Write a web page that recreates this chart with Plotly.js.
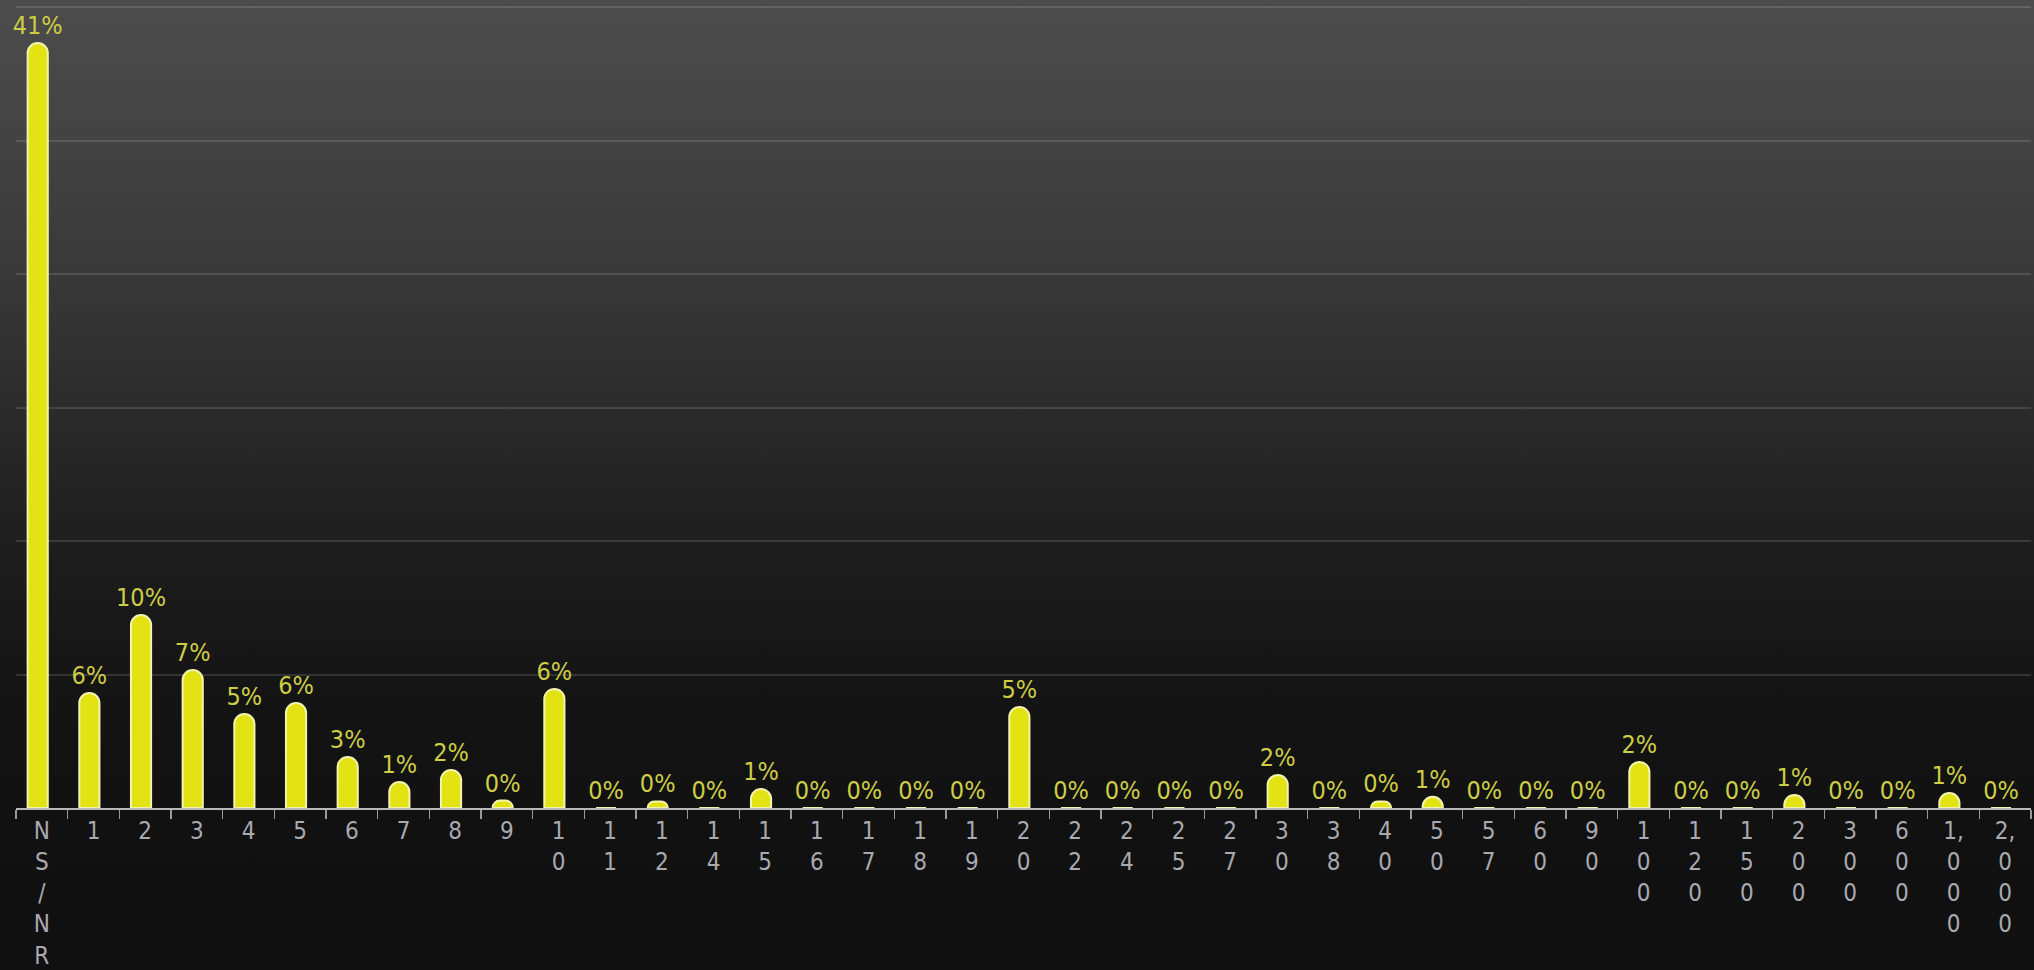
<!DOCTYPE html>
<html>
<head>
<meta charset="utf-8">
<script src="https://cdn.plot.ly/plotly-3.0.1.min.js"></script>
<style>
  html, body { margin: 0; padding: 0; width: 2034px; height: 970px; overflow: hidden; }
  body {
    background: linear-gradient(to bottom, #4c4c4c 0px, #434343 140px, #383838 280px, #2a2a2a 420px, #1c1c1c 560px, #141414 700px, #111111 820px, #101010 970px);
  }
  #chart { width: 2034px; height: 970px; }
</style>
</head>
<body>
<div id="chart"></div>
<script>
// Categories (x axis)
const categories = ["NS/NR","1","2","3","4","5","6","7","8","9","10","11","12","14","15","16","17","18","19","20","22","24","25","27","30","38","40","50","57","60","90","100","120","150","200","300","600","1,000","2,000"];

// Share of answers, percent
const shares = [41.06, 6.17, 10.36, 7.41, 5.05, 5.64, 2.74, 1.40, 2.04, 0.40, 6.39, 0, 0.35, 0, 1.02, 0, 0, 0, 0, 5.42, 0, 0, 0, 0, 1.77, 0, 0.35, 0.60, 0, 0, 0, 2.47, 0, 0, 0.70, 0, 0, 0.80, 0];

// Stacked tick labels: one character per line, commas stay with the previous character
function stackLabel(s) {
  const parts = [];
  for (const ch of s) {
    if (ch === ',' && parts.length) parts[parts.length - 1] += ch;
    else parts.push(ch);
  }
  return parts.join('<br>');
}
const tickLabels = categories.map(stackLabel);
const barLabels = shares.map(v => Math.round(v) + '%');

const FONT = 'DejaVu Sans Condensed, DejaVu Sans, sans-serif';

const trace = {
  type: 'bar',
  x: categories,
  y: shares,
  text: barLabels,
  textposition: 'outside',
  textangle: 0,
  constraintext: 'none',
  cliponaxis: false,
  textfont: { family: FONT, size: 25, color: '#cdcd46' },
  width: 0.39,
  offset: -0.275,
  marker: {
    color: '#e3e314',
    line: { color: '#f3f3b0', width: 2 },
    cornerradius: 10
  },
  hoverinfo: 'skip'
};

const pxPerPct = 18.63;
const gridStep = (801 / pxPerPct) / 6;   // gridline spacing (133.5 px)
const plotHeightPx = 804;
const yMax = plotHeightPx / pxPerPct;

const layout = {
  width: 2034,
  height: 970,
  margin: { l: 16, r: 3, t: 4, b: 162 },
  paper_bgcolor: 'rgba(0,0,0,0)',
  plot_bgcolor: 'rgba(0,0,0,0)',
  showlegend: false,
  bargap: 0.6,
  xaxis: {
    type: 'category',
    tickmode: 'array',
    tickvals: categories,
    ticktext: tickLabels,
    tickson: 'boundaries',
    ticks: 'outside',
    ticklen: 9,
    tickwidth: 1.5,
    tickcolor: '#9a9a9a',
    showline: true,
    linecolor: '#b8b8b8',
    linewidth: 2,
    showgrid: false,
    zeroline: false,
    tickangle: 0,
    tickfont: { family: FONT, size: 24, color: '#a9a9b0' },
    fixedrange: true
  },
  yaxis: {
    range: [0, yMax],
    tick0: 0,
    dtick: gridStep,
    showticklabels: false,
    ticks: '',
    showgrid: true,
    gridcolor: 'rgba(255,255,255,0.13)',
    gridwidth: 2,
    zeroline: false,
    showline: false,
    fixedrange: true
  }
};

Plotly.newPlot('chart', [trace], layout, { displayModeBar: false, staticPlot: true });
</script>
</body>
</html>
